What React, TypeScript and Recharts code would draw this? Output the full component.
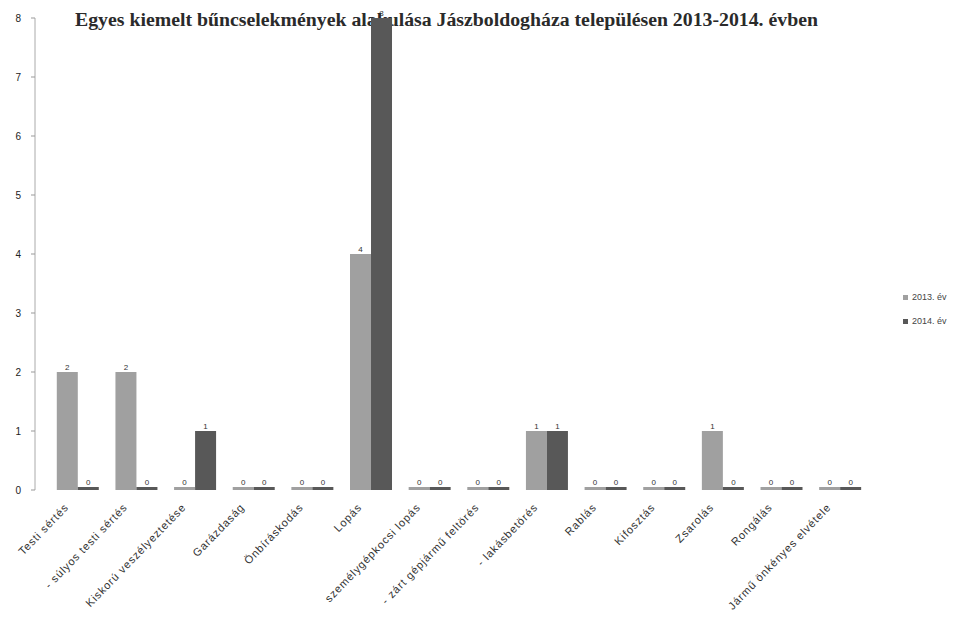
import { BarChart, Bar, XAxis, YAxis, LabelList } from 'recharts';

const categories = [
  'Testi sértés',
  '- súlyos testi sértés',
  'Kiskorú veszélyeztetése',
  'Garázdaság',
  'Önbíráskodás',
  'Lopás',
  'személygépkocsi lopás',
  '- zárt gépjármű feltörés',
  '- lakásbetörés',
  'Rablás',
  'Kifosztás',
  'Zsarolás',
  'Rongálás',
  'Jármű önkényes elvétele',
];
const values2013 = [2, 2, 0, 0, 0, 4, 0, 0, 1, 0, 0, 1, 0, 0];
const values2014 = [0, 0, 1, 0, 0, 8, 0, 0, 1, 0, 0, 0, 0, 0];
const yTicks = [0, 1, 2, 3, 4, 5, 6, 7, 8];

const data = categories.map((name, i) => ({
  name,
  y2013: values2013[i],
  y2014: values2014[i],
}));

const COLOR_2013 = '#a0a0a0';
const COLOR_2014 = '#585858';
const SANS = "'Liberation Sans', Arial, sans-serif";

function AngledTick({ x, y, payload }: any) {
  return (
    <g transform={`translate(${x - 8},${y + 10})`}>
      <text
        textAnchor="end"
        transform="rotate(-46)"
        fontSize={11}
        fontFamily={SANS}
        fill="#333"
        letterSpacing={0.9}
      >
        {payload.value}
      </text>
    </g>
  );
}

function ValueLabel({ x, y, width, value }: any) {
  return (
    <text x={x + width / 2} y={y - 2} textAnchor="middle" fontSize={8} fontFamily={SANS} fill="#333">
      {value}
    </text>
  );
}

const legendItems = [
  { label: '2013. év', color: COLOR_2013 },
  { label: '2014. év', color: COLOR_2014 },
];

export default function App() {
  return (
    <div style={{ position: 'absolute', left: 0, top: 0, width: 970, height: 621, background: '#fff' }}>
      <div
        style={{
          position: 'absolute',
          left: 75,
          top: 8,
          zIndex: 0,
          fontFamily: "'Liberation Serif', 'Times New Roman', serif",
          fontWeight: 'bold',
          fontSize: 19.8,
          color: '#2a2a2a',
          whiteSpace: 'nowrap',
        }}
      >
        Egyes kiemelt bűncselekmények alakulása Jászboldogháza településen 2013-2014. évben
      </div>
      <div style={{ position: 'relative', zIndex: 1 }}>
        <BarChart
          width={970}
          height={621}
          data={data}
          margin={{ top: 18, right: 101, bottom: 0, left: 0 }}
          barCategoryGap="15%"
          barGap={0}
        >
          <XAxis
            dataKey="name"
            interval={0}
            height={131}
            tick={<AngledTick />}
            tickLine={false}
            axisLine={false}
            padding={{ left: 13, right: 0 }}
          />
          <YAxis
            width={35}
            domain={[0, 8]}
            ticks={yTicks}
            tick={{ fontSize: 10, fill: '#222', fontFamily: SANS, dx: -8 }}
            tickLine={{ stroke: '#999' }}
            axisLine={{ stroke: '#aaa' }}
            tickSize={4}
          />
          <Bar dataKey="y2013" name="2013. év" fill={COLOR_2013} minPointSize={3} isAnimationActive={false}>
            <LabelList dataKey="y2013" content={<ValueLabel />} />
          </Bar>
          <Bar dataKey="y2014" name="2014. év" fill={COLOR_2014} minPointSize={3} isAnimationActive={false}>
            <LabelList dataKey="y2014" content={<ValueLabel />} />
          </Bar>
        </BarChart>
      </div>
      <div
        style={{
          position: 'absolute',
          left: 903,
          top: 285,
          zIndex: 2,
          fontFamily: SANS,
          fontSize: 9,
          color: '#444',
        }}
      >
        {legendItems.map((it) => (
          <div key={it.label} style={{ display: 'flex', alignItems: 'center', height: 24 }}>
            <span style={{ width: 5, height: 5, background: it.color, marginRight: 4, display: 'inline-block' }} />
            {it.label}
          </div>
        ))}
      </div>
    </div>
  );
}
